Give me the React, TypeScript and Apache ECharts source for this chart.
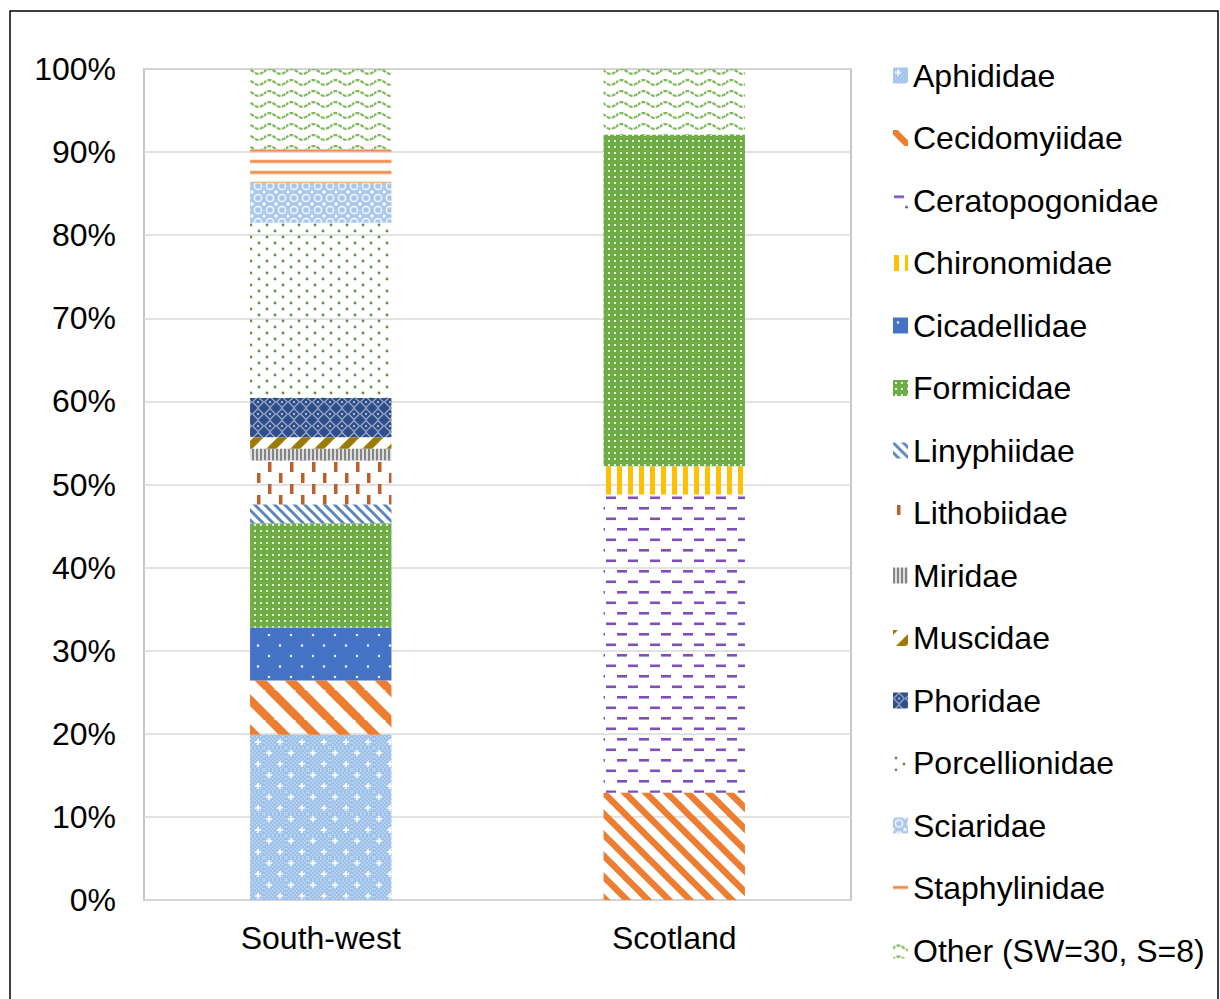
import React, { useEffect, useRef } from 'react';
import * as echarts from 'echarts';

const categories = ['South-west', 'Scotland'];
const families = [
  'Aphididae',
  'Cecidomyiidae',
  'Ceratopogonidae',
  'Chironomidae',
  'Cicadellidae',
  'Formicidae',
  'Linyphiidae',
  'Lithobiidae',
  'Miridae',
  'Muscidae',
  'Phoridae',
  'Porcellionidae',
  'Sciaridae',
  'Staphylinidae',
  'Other (SW=30, S=8)',
];
// percentage of individuals per family
const southWest = [19.9, 6.5, 0, 0, 6.4, 12.5, 2.3, 5.3, 1.4, 1.4, 4.7, 21.1, 4.8, 4.0, 9.7];
const scotland = [0, 12.9, 35.9, 3.4, 0, 39.9, 0, 0, 0, 0, 0, 0, 0, 0, 7.9];
const yMin = 0;
const yMax = 100;
const yStep = 10;

type Draw = (ctx: CanvasRenderingContext2D, w: number, h: number) => void;

function tile(w: number, h: number, draw: Draw) {
  const c = document.createElement('canvas');
  c.width = w;
  c.height = h;
  const ctx = c.getContext('2d') as CanvasRenderingContext2D;
  draw(ctx, w, h);
  return { image: c, repeat: 'repeat', imageWidth: w, imageHeight: h } as any;
}

function diagDown(color: string, s: number, lw: number): Draw {
  return (ctx) => {
    ctx.strokeStyle = color;
    ctx.lineWidth = lw;
    for (let k = -1; k <= 1; k++) {
      ctx.beginPath();
      ctx.moveTo(k * s - 2, -2);
      ctx.lineTo(k * s + s + 2, s + 2);
      ctx.stroke();
    }
  };
}

function diagUp(color: string, s: number, lw: number): Draw {
  return (ctx) => {
    ctx.strokeStyle = color;
    ctx.lineWidth = lw;
    for (let k = -1; k <= 1; k++) {
      ctx.beginPath();
      ctx.moveTo(k * s - 2, s + 2);
      ctx.lineTo(k * s + s + 2, -2);
      ctx.stroke();
    }
  };
}

function makePatterns() {
  const p: any[] = [];
  // Aphididae
  p.push(
    tile(22, 22, (ctx, w, h) => {
      ctx.fillStyle = '#9bbfe8';
      ctx.fillRect(0, 0, w, h);
      ctx.fillStyle = 'rgba(255,255,255,0.45)';
      for (let y = 0; y < h; y += 2)
        for (let x = 0; x < w; x += 2) if (((x + y) / 2) % 2 === 0) ctx.fillRect(x, y, 1.5, 1.5);
      ctx.fillStyle = '#ffffff';
      for (const [cx, cy] of [
        [5, 5],
        [16, 16],
      ]) {
        ctx.fillRect(cx - 3, cy - 0.75, 6, 1.5);
        ctx.fillRect(cx - 0.75, cy - 3, 1.5, 6);
      }
    })
  );
  // Cecidomyiidae
  p.push(tile(21, 21, diagDown('#ed7d31', 21, 6.5)));
  // Ceratopogonidae
  p.push(
    tile(22, 21, (ctx) => {
      ctx.fillStyle = '#7e4fbb';
      ctx.fillRect(1, 3, 10, 2.6);
      ctx.fillRect(12, 13.5, 10, 2.6);
    })
  );
  // Chironomidae
  p.push(
    tile(11, 4, (ctx) => {
      ctx.fillStyle = '#ffc000';
      ctx.fillRect(1, 0, 5, 4);
    })
  );
  // Cicadellidae
  p.push(
    tile(22, 21, (ctx, w, h) => {
      ctx.fillStyle = '#4472c4';
      ctx.fillRect(0, 0, w, h);
      ctx.fillStyle = 'rgba(255,255,255,0.9)';
      ctx.beginPath();
      ctx.arc(5, 5, 1.3, 0, Math.PI * 2);
      ctx.arc(16, 15.5, 1.3, 0, Math.PI * 2);
      ctx.fill();
    })
  );
  // Formicidae
  p.push(
    tile(6, 6, (ctx, w, h) => {
      ctx.fillStyle = '#6fac46';
      ctx.fillRect(0, 0, w, h);
      ctx.fillStyle = 'rgba(255,255,255,0.8)';
      ctx.fillRect(2, 2, 2, 2);
    })
  );
  // Linyphiidae
  p.push(tile(10, 10, diagDown('#5a86ba', 10, 3)));
  // Lithobiidae
  p.push(
    tile(22, 22, (ctx) => {
      ctx.fillStyle = '#bd5f2d';
      ctx.fillRect(4, 0, 3.5, 10);
      ctx.fillRect(15, 11, 3.5, 10);
    })
  );
  // Miridae
  p.push(
    tile(4, 4, (ctx) => {
      ctx.fillStyle = '#dedede';
      ctx.fillRect(0, 0, 4, 4);
      ctx.fillStyle = '#858585';
      ctx.fillRect(0, 0, 2, 4);
    })
  );
  // Muscidae
  p.push(tile(24, 24, diagUp('#9c7a08', 24, 7)));
  // Phoridae
  p.push(
    tile(12, 12, (ctx, w, h) => {
      ctx.fillStyle = '#2f4f8a';
      ctx.fillRect(0, 0, w, h);
      ctx.strokeStyle = 'rgba(255,255,255,0.55)';
      ctx.lineWidth = 1.2;
      ctx.beginPath();
      ctx.moveTo(6, 0.5);
      ctx.lineTo(11.5, 6);
      ctx.lineTo(6, 11.5);
      ctx.lineTo(0.5, 6);
      ctx.closePath();
      ctx.stroke();
      ctx.fillStyle = 'rgba(255,255,255,0.6)';
      ctx.fillRect(5, 5, 2, 2);
    })
  );
  // Porcellionidae
  p.push(
    tile(16, 12, (ctx) => {
      ctx.fillStyle = '#5f8f44';
      ctx.beginPath();
      ctx.arc(3, 3, 1.4, 0, Math.PI * 2);
      ctx.fill();
      ctx.beginPath();
      ctx.arc(11, 9, 1.4, 0, Math.PI * 2);
      ctx.fill();
    })
  );
  // Sciaridae
  p.push(
    tile(12, 12, (ctx, w, h) => {
      ctx.fillStyle = '#a9c8ec';
      ctx.fillRect(0, 0, w, h);
      ctx.strokeStyle = 'rgba(255,255,255,0.9)';
      ctx.lineWidth = 1.5;
      ctx.beginPath();
      ctx.arc(6, 6, 3.6, 0, Math.PI * 2);
      ctx.stroke();
      ctx.fillStyle = '#ffffff';
      ctx.fillRect(0, 0, 1.5, 1.5);
      ctx.fillRect(w - 1.5, 0, 1.5, 1.5);
      ctx.fillRect(0, h - 1.5, 1.5, 1.5);
      ctx.fillRect(w - 1.5, h - 1.5, 1.5, 1.5);
    })
  );
  // Staphylinidae
  p.push(
    tile(4, 11, (ctx) => {
      ctx.fillStyle = '#f9d0b3';
      ctx.fillRect(0, 5.5, 4, 4);
      ctx.fillStyle = '#ef8a4a';
      ctx.fillRect(0, 6.3, 4, 2.2);
    })
  );
  // Other
  p.push(
    tile(22, 11, (ctx) => {
      ctx.strokeStyle = '#80b95e';
      ctx.lineWidth = 2.3;
      ctx.setLineDash([4, 1.2]);
      ctx.beginPath();
      for (let x = -1; x <= 23; x += 0.5) {
        const y = 5.5 - 2.4 * Math.sin((2 * Math.PI * x) / 22);
        if (x === -1) ctx.moveTo(x, y);
        else ctx.lineTo(x, y);
      }
      ctx.stroke();
    })
  );
  return p;
}

export default function App() {
  const ref = useRef<HTMLDivElement>(null);
  useEffect(() => {
    if (!ref.current) return;
    const chart = echarts.init(ref.current, undefined, { renderer: 'svg' });
    const patterns = makePatterns();
    const cecidSW = tile(30, 30, diagDown('#ed7d31', 30, 8.5));
    const font = "'Liberation Sans', Arial, sans-serif";
    const series = families.map((name, i) => ({
      name,
      type: 'bar',
      stack: 'total',
      barWidth: '40%',
      itemStyle: { color: patterns[i] },
      emphasis: { disabled: true },
      data: [
        i === 1 ? { value: southWest[i], itemStyle: { color: cecidSW } } : southWest[i],
        scotland[i],
      ],
    }));
    chart.setOption({
      animation: false,
      backgroundColor: '#ffffff',
      textStyle: { fontFamily: font },
      grid: { left: 144, right: 369, top: 69, bottom: 99, show: true, borderColor: '#b4b4b4', borderWidth: 1.5 },
      graphic: [
        {
          type: 'rect',
          shape: { x: 10, y: 11, width: 1208, height: 1010 },
          style: { fill: 'none', stroke: '#000000', lineWidth: 1.5 },
          silent: true,
        },
      ],
      legend: {
        orient: 'vertical',
        left: 888,
        top: 54.5,
        itemWidth: 15,
        itemHeight: 16,
        itemGap: 30.5,
        icon: 'rect',
        selectedMode: false,
        textStyle: { fontSize: 32, color: '#000000', fontFamily: font },
        data: families,
      },
      xAxis: {
        type: 'category',
        data: categories,
        axisLine: { show: false },
        axisTick: { show: false },
        axisLabel: { fontSize: 32, color: '#000000', margin: 22, fontFamily: font },
      },
      yAxis: {
        type: 'value',
        min: yMin,
        max: yMax,
        interval: yStep,
        axisLine: { show: false },
        axisTick: { show: false },
        splitLine: { lineStyle: { color: '#d9d9d9', width: 1.5 } },
        axisLabel: { fontSize: 32, color: '#000000', margin: 28, formatter: '{value}%', fontFamily: font },
      },
      series,
    });
    return () => chart.dispose();
  }, []);
  return (
    <div
      ref={ref}
      style={{ position: 'fixed', left: 0, top: 0, width: 1220, height: 999, background: '#fff' }}
    />
  );
}
